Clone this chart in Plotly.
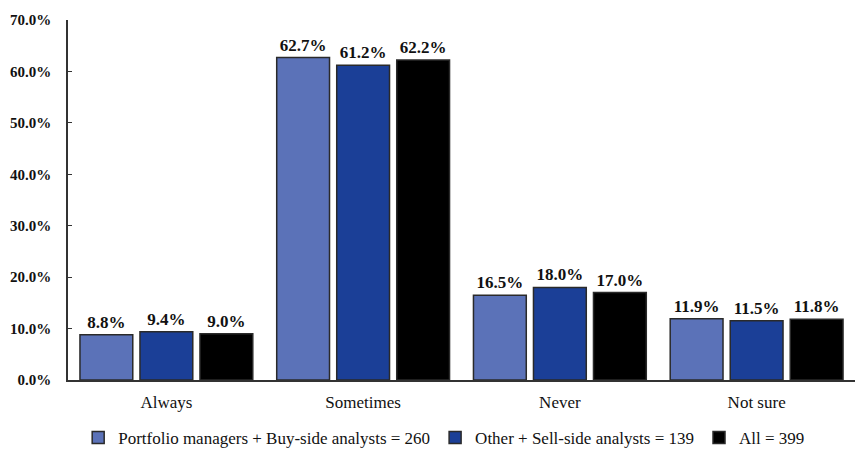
import plotly.graph_objects as go

categories = ["Always", "Sometimes", "Never", "Not sure"]
series_names = [
    "Portfolio managers + Buy-side analysts = 260",
    "Other + Sell-side analysts = 139",
    "All = 399",
]
buy_side = [8.8, 62.7, 16.5, 11.9]
sell_side = [9.4, 61.2, 18.0, 11.5]
all_resp = [9.0, 62.2, 17.0, 11.8]
colors = ["#5b72b8", "#1b3f97", "#000000"]

serif = "Liberation Serif, Times New Roman, serif"

fig = go.Figure()
for name, vals, col in zip(series_names, [buy_side, sell_side, all_resp], colors):
    fig.add_trace(go.Bar(
        x=categories, y=vals, name=name,
        marker=dict(color=col, line=dict(color="#2a2a2a", width=1.5)),
        text=[f"<b>{v:.1f}%</b>" for v in vals],
        textposition="outside",
        textfont=dict(family=serif, size=17, color="#111111"),
        cliponaxis=False,
    ))

fig.update_layout(
    width=857, height=464,
    margin=dict(l=68, r=2, t=20, b=84, autoexpand=False),
    paper_bgcolor="white", plot_bgcolor="white",
    barmode="group", bargap=0.085, bargroupgap=0.12,
    showlegend=True,
    legend=dict(
        orientation="h", x=0.478, xanchor="center",
        yref="container", y=0.056, yanchor="middle",
        font=dict(family=serif, size=17, color="#111111"),
        traceorder="normal", itemwidth=30, tracegroupgap=0,
    ),
    xaxis=dict(
        showline=True, linecolor="#333333", linewidth=1.5,
        ticks="", ticklabelstandoff=6,
        tickfont=dict(family=serif, size=17, color="#111111"),
    ),
    yaxis=dict(
        range=[0, 70],
        tickvals=[0, 10, 20, 30, 40, 50, 60, 70],
        ticktext=[f"<b>{v:.1f}%</b>" for v in [0, 10, 20, 30, 40, 50, 60, 70]],
        showline=True, linecolor="#333333", linewidth=1.5,
        ticks="inside", ticklen=4, tickcolor="#333333",
        ticklabelstandoff=12,
        showgrid=False, zeroline=False,
        tickfont=dict(family=serif, size=15, color="#111111"),
    ),
)

fig.write_html("out.html")
